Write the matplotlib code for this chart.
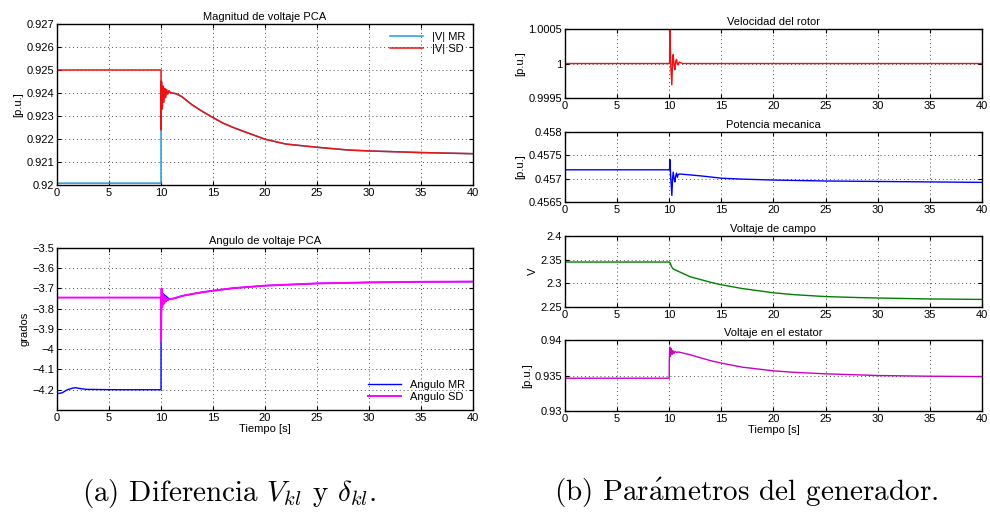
import matplotlib
matplotlib.use("Agg")
import matplotlib.pyplot as plt
from matplotlib.ticker import FuncFormatter

plt.rcParams['font.family'] = ['Liberation Sans', 'DejaVu Sans']
plt.rcParams['font.size'] = 8
plt.rcParams['mathtext.fontset'] = 'cm'

# --- Magnitud de voltaje PCA ---
t_vmr = [0, 10, 10, 10.05, 10.9, 11, 11.5, 12, 13, 14, 15, 16, 17, 18, 20, 22,
         25, 28, 30, 35, 40]
v_mr = [0.92008, 0.92008, 0.9224, 0.9240, 0.92402, 0.92401, 0.92396, 0.92384,
        0.92348, 0.92319, 0.92293, 0.92268, 0.92249, 0.92232, 0.92199, 0.92178,
        0.92164, 0.92152, 0.92148, 0.92141, 0.92136]
t_vsd = [0, 10, 10, 10.05, 10.12, 10.2, 10.28, 10.36, 10.45, 10.55, 10.65, 10.75,
         10.9, 11, 11.5, 12, 13, 14, 15, 16, 17, 18, 20, 22, 25, 28, 30, 35, 40]
v_sd = [0.925, 0.925, 0.9224, 0.9245, 0.9233, 0.9243, 0.9236, 0.9242, 0.9238,
        0.92415, 0.92395, 0.9241, 0.92402, 0.92401, 0.92396, 0.92384, 0.92348,
        0.92319, 0.92293, 0.92268, 0.92249, 0.92232, 0.92199, 0.92178, 0.92164,
        0.92152, 0.92148, 0.92141, 0.92136]

# --- Angulo de voltaje PCA ---
t_amr = [0, 0.5, 1, 1.5, 1.8, 2.2, 2.8, 4, 6, 10, 10, 10.05, 10.8, 11, 11.5, 12,
         13, 14, 15, 17, 20, 25, 30, 35, 40]
a_mr = [-4.22, -4.215, -4.20, -4.192, -4.19, -4.194, -4.198, -4.199, -4.200,
        -4.200, -3.96, -3.72, -3.752, -3.752, -3.745, -3.737, -3.727, -3.718,
        -3.711, -3.698, -3.686, -3.675, -3.670, -3.667, -3.666]
t_asd = [0, 10, 10, 10.05, 10.12, 10.2, 10.28, 10.36, 10.45, 10.55, 10.65, 10.8,
         11, 11.5, 12, 13, 14, 15, 17, 20, 25, 30, 35, 40]
a_sd = [-3.745, -3.745, -3.96, -3.70, -3.79, -3.73, -3.775, -3.74, -3.765, -3.75,
        -3.758, -3.752, -3.752, -3.745, -3.737, -3.727, -3.718, -3.711, -3.698,
        -3.686, -3.675, -3.670, -3.667, -3.666]

# --- Velocidad del rotor ---
t_w = [0, 10, 10.03, 10.06, 10.15, 10.25, 10.32, 10.38, 10.46, 10.54, 10.62,
       10.7, 10.78, 10.86, 10.95, 11.1, 11.3, 12, 40]
w = [1.0, 1.0, 1.0, 1.00052, 0.99995, 0.99969, 1.00005, 1.00013, 0.99998,
     0.99991, 1.00003, 1.00006, 0.99999, 0.99998, 1.00002, 1.00001, 1.0, 1.0, 1.0]

# --- Potencia mecanica ---
t_pm = [0, 10, 10.03, 10.06, 10.15, 10.25, 10.32, 10.38, 10.46, 10.54, 10.62,
        10.7, 10.78, 10.86, 11, 11.5, 12, 13, 15, 17, 20, 25, 30, 35, 40]
pm = [0.45719, 0.45719, 0.45719, 0.45741, 0.45700, 0.45664, 0.45700, 0.45714,
      0.45700, 0.45693, 0.45706, 0.45712, 0.45703, 0.45709, 0.45710, 0.45709,
      0.45708, 0.45706, 0.45701, 0.45699, 0.45697, 0.45695, 0.45694, 0.45693,
      0.45692]

# --- Voltaje de campo ---
t_ef = [0, 10, 10.1, 10.2, 10.35, 10.6, 11, 12, 13, 14, 15, 17, 20, 22, 25, 28,
        30, 35, 40]
ef = [2.345, 2.345, 2.343, 2.336, 2.331, 2.328, 2.324, 2.314, 2.308, 2.302,
      2.297, 2.289, 2.280, 2.276, 2.272, 2.270, 2.269, 2.267, 2.266]

# --- Voltaje en el estator ---
t_vt = [0, 10, 10, 10.05, 10.12, 10.2, 10.28, 10.36, 10.45, 10.55, 10.7, 10.85,
        11, 12, 13, 14, 15, 17, 20, 22, 25, 30, 35, 40]
vt = [0.93462, 0.93462, 0.9368, 0.93900, 0.93770, 0.93880, 0.93800, 0.93850,
      0.93810, 0.93840, 0.93825, 0.93832, 0.93828, 0.93792, 0.93750, 0.93708,
      0.93675, 0.93618, 0.93566, 0.93545, 0.93524, 0.93500, 0.93490, 0.93485]

x_ticks = [0, 5, 10, 15, 20, 25, 30, 35, 40]


def fmt(v, pos):
    return '{:g}'.format(round(v, 6)).replace('-', '\u2212')


def style(ax, yticks, ylim, title, ylabel, xlabel=None):
    ax.set_xlim(0, 40)
    ax.set_ylim(*ylim)
    ax.set_xticks(x_ticks)
    ax.set_yticks(yticks)
    ax.yaxis.set_major_formatter(FuncFormatter(fmt))
    ax.tick_params(direction='in', top=True, right=True, length=3, width=0.8,
                   labelsize=8, pad=2)
    ax.grid(True, color='0.3', linestyle=(0, (1, 3)), linewidth=0.7)
    for s in ax.spines.values():
        s.set_linewidth(1.0)
    ax.set_title(title, fontsize=8, pad=3)
    ax.set_ylabel(ylabel, fontsize=8, labelpad=2)
    if xlabel:
        ax.set_xlabel(xlabel, fontsize=8, labelpad=1)


fig = plt.figure(figsize=(9.9, 5.17), dpi=100)

ax1 = fig.add_axes([0.0576, 0.6422, 0.4202, 0.3114])
ax1.plot(t_vmr, v_mr, color='#1f9be0', lw=1.1, label='|V| MR')
ax1.plot(t_vsd, v_sd, color='#ee1111', lw=1.1, label='|V| SD')
style(ax1, [0.92, 0.921, 0.922, 0.923, 0.924, 0.925, 0.926, 0.927],
      (0.92, 0.927), 'Magnitud de voltaje PCA', '[p.u.]')
ax1.legend(loc='upper right', frameon=False, fontsize=8, handlelength=3.0,
           borderaxespad=0.3, labelspacing=0.2)

ax2 = fig.add_axes([0.0576, 0.2070, 0.4202, 0.3133])
ax2.plot(t_amr, a_mr, color='#0000ff', lw=1.0, label='Angulo MR')
ax2.plot(t_asd, a_sd, color='#ff00ff', lw=1.4, label='Angulo SD')
style(ax2, [-4.2, -4.1, -4.0, -3.9, -3.8, -3.7, -3.6, -3.5], (-4.3, -3.5),
      'Angulo de voltaje PCA', 'grados', 'Tiempo [s]')
ax2.legend(loc='lower right', frameon=False, fontsize=8, handlelength=3.0,
           borderaxespad=0.3, labelspacing=0.2)

r_left, r_w = 0.5707, 0.4212
ax3 = fig.add_axes([r_left, 0.8104, r_w, 0.1335])
ax3.plot(t_w, w, color='#ee1111', lw=1.0)
style(ax3, [0.9995, 1.0, 1.0005], (0.9995, 1.0005), 'Velocidad del rotor', '[p.u.]')

ax4 = fig.add_axes([r_left, 0.6093, r_w, 0.1354])
ax4.plot(t_pm, pm, color='#0000ff', lw=1.0)
style(ax4, [0.4565, 0.457, 0.4575, 0.458], (0.4565, 0.458), 'Potencia mecanica', '[p.u.]')

ax5 = fig.add_axes([r_left, 0.4062, r_w, 0.1373])
ax5.plot(t_ef, ef, color='#008000', lw=1.0)
style(ax5, [2.25, 2.3, 2.35, 2.4], (2.25, 2.4), 'Voltaje de campo', 'V')

ax6 = fig.add_axes([r_left, 0.2050, r_w, 0.1373])
ax6.plot(t_vt, vt, color='#c800c8', lw=1.0)
style(ax6, [0.93, 0.935, 0.94], (0.93, 0.94), 'Voltaje en el estator', '[p.u.]',
      'Tiempo [s]')

cap_font = ['cmr10', 'DejaVu Serif']
fig.text(0.232, 0.046, r'(a) Diferencia $V_{kl}$ y $\delta_{kl}$.', ha='center',
         va='center', fontsize=21, family=cap_font)
fig.text(0.754, 0.046, r'(b) Par$\acute{\mathrm{a}}$metros del generador.',
         ha='center', va='center', fontsize=21, family=cap_font)

fig.savefig('out.png', dpi=100)
